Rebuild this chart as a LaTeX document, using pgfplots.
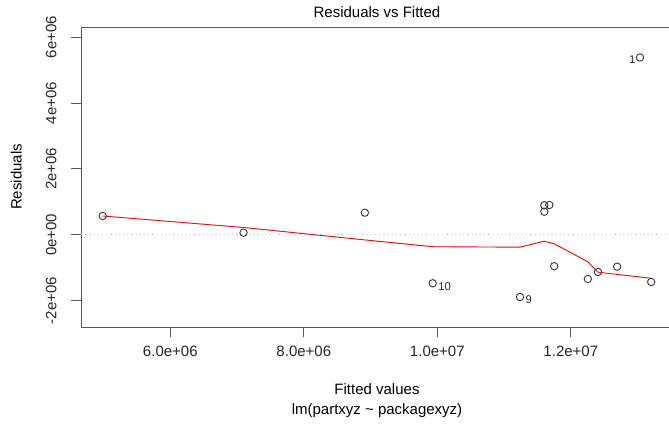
\documentclass[border=0pt]{standalone}
\usepackage{fontspec}
\setmainfont{Liberation Sans}
\usepackage{pgfplots}
\pgfplotsset{compat=1.18}
\begin{document}
\begin{tikzpicture}[x=1pt,y=1pt]
\begin{axis}[
  at={(81pt,103.7pt)}, anchor=south west,
  scale only axis, width=592pt, height=300.3pt,
  xmin=4.662e6, xmax=13.531e6, ymin=-2.807e6, ymax=6.306e6,
  axis line style={black!65, line width=0.9pt},
  tick style={black!65, line width=0.9pt},
  tick align=outside, tick pos=left, major tick length=10pt,
  xtick={6e6,8e6,10e6,12e6},
  xticklabels={6.0e+06,8.0e+06,1.0e+07,1.2e+07},
  ytick={-2e6,0,2e6,4e6,6e6},
  yticklabels={-2e+06,0e+00,2e+06,4e+06,6e+06},
  scaled ticks=false,
  tick label style={font=\fontsize{15}{18}\selectfont, text=black!85},
  yticklabel style={rotate=90, anchor=base},
  yticklabel shift=14.5pt,
  xticklabel shift=5pt,
]
\addplot[gray!45, line width=0.9pt, dash pattern=on 1.2pt off 3pt] coordinates {(4.662e6,0) (13.531e6,0)};
\addplot[only marks, mark=o, mark size=3.7pt, black!80, mark options={line width=0.9pt}] coordinates {
(4.987e6,0.571e6)
(7.097e6,0.064e6)
(8.914e6,0.671e6)
(9.931e6,-1.472e6)
(11.239e6,-1.888e6)
(11.603e6,0.896e6)
(11.678e6,0.904e6)
(11.603e6,0.701e6)
(11.751e6,-0.953e6)
(12.255e6,-1.341e6)
(12.407e6,-1.129e6)
(12.695e6,-0.968e6)
(13.204e6,-1.432e6)
(13.037e6,5.381e6)
};
\addplot[red, line width=0.9pt] coordinates {
(4.987e6,0.571e6)
(7.097e6,0.222e6)
(8.914e6,-0.155e6)
(9.931e6,-0.361e6)
(11.239e6,-0.376e6)
(11.603e6,-0.194e6)
(11.678e6,-0.233e6)
(11.751e6,-0.273e6)
(12.255e6,-0.816e6)
(12.407e6,-1.135e6)
(12.695e6,-1.202e6)
(13.037e6,-1.281e6)
(13.204e6,-1.320e6)
};
\node[font=\fontsize{11.25}{13}\selectfont, text=black!85, inner sep=0, anchor=east, xshift=-4.5pt, yshift=-2pt] at (axis cs:13.037e6,5.381e6) {1};
\node[font=\fontsize{11.25}{13}\selectfont, text=black!85, inner sep=0, anchor=west, xshift=5.5pt, yshift=-3pt] at (axis cs:9.931e6,-1.472e6) {10};
\node[font=\fontsize{11.25}{13}\selectfont, text=black!85, inner sep=0, anchor=west, xshift=5.5pt, yshift=-3pt] at (axis cs:11.239e6,-1.888e6) {9};
\end{axis}
\node[font=\fontsize{15}{18}\selectfont, inner sep=0, anchor=base] at (377,413.5) {Residuals vs Fitted};
\node[font=\fontsize{15}{18}\selectfont, inner sep=0, anchor=base] at (377,37) {Fitted values};
\node[font=\fontsize{15}{18}\selectfont, inner sep=0, anchor=base] at (377,16.5) {lm(partxyz \textasciitilde{} packagexyz)};
\node[font=\fontsize{15}{18}\selectfont, inner sep=0, anchor=base, rotate=90] at (21.5,254) {Residuals};
\pgfresetboundingbox
\useasboundingbox (0,0) rectangle (669,431);
\end{tikzpicture}
\end{document}
